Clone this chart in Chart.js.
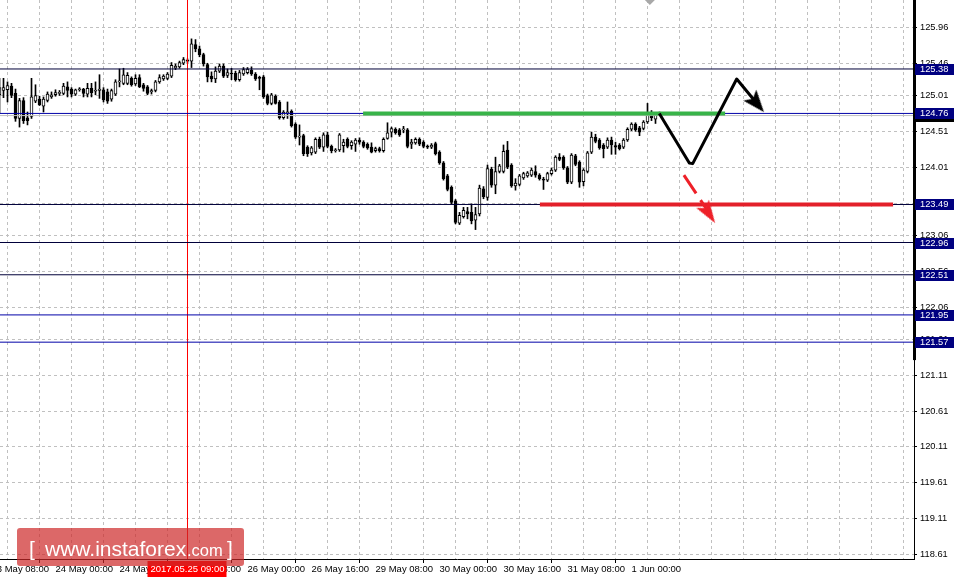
<!DOCTYPE html>
<html><head><meta charset="utf-8">
<script src="https://cdn.jsdelivr.net/npm/chart.js@4/dist/chart.umd.min.js"></script>
<style>html,body{margin:0;padding:0;background:#fff;}canvas{display:block;}</style>
</head><body>
<canvas id="c" width="955" height="580"></canvas>
<script>
// ---- data (hours counted from 24 May 00:00, trading hours only) ----
const firstBarHour = -14;
const opens  = [125.02,125.08,125.09,125.14,125.04,124.69,124.94,124.70,124.72,124.93,124.96,124.86,124.94,124.99,
125.02,125.04,125.04,125.13,125.10,125.03,125.09,125.10,125.03,125.11,125.07,125.08,125.09,125.06,124.96,125.03,
125.20,125.18,125.18,125.25,125.17,125.26,125.16,125.13,125.06,125.08,125.20,125.24,125.25,125.28,125.39,125.41,
125.46,125.50,125.49,125.72,125.66,125.58,125.44,125.28,125.24,125.35,125.42,125.29,125.32,125.32,125.23,125.31,
125.33,125.36,125.31,125.26,125.27,125.01,124.90,125.00,124.92,124.70,124.77,124.79,124.61,124.43,124.45,124.29,
124.21,124.22,124.40,124.29,124.46,124.30,124.24,124.25,124.31,124.40,124.31,124.33,124.39,124.36,124.33,124.29,
124.24,124.27,124.24,124.41,124.50,124.54,124.53,124.53,124.53,124.33,124.35,124.40,124.36,124.30,124.29,124.34,
124.22,124.07,123.89,123.73,123.54,123.23,123.32,123.39,123.38,123.27,123.36,123.71,123.59,123.98,123.76,123.95,
123.95,124.25,124.04,123.75,123.77,123.86,123.89,123.90,123.95,123.90,123.84,123.83,123.92,123.97,124.15,124.15,
124.00,123.80,124.17,124.08,123.81,123.95,124.22,124.43,124.39,124.32,124.29,124.39,124.31,124.32,124.29,124.39,
124.54,124.61,124.56,124.55,124.64,124.75,124.68,124.75];
const highs  = [125.25,125.25,125.20,125.18,125.10,124.97,124.98,124.78,125.25,125.16,125.00,124.99,125.06,125.06,
125.09,125.08,125.18,125.20,125.12,125.10,125.12,125.11,125.18,125.18,125.20,125.30,125.12,125.10,125.10,125.23,
125.38,125.39,125.33,125.27,125.30,125.30,125.18,125.15,125.10,125.22,125.30,125.30,125.33,125.47,125.45,125.49,
125.54,125.52,125.80,125.79,125.70,125.60,125.46,125.34,125.41,125.45,125.45,125.38,125.39,125.35,125.36,125.40,
125.40,125.41,125.33,125.28,125.29,125.03,125.04,125.02,124.94,124.80,124.92,124.81,124.63,124.60,124.47,124.31,
124.30,124.42,124.43,124.49,124.50,124.32,124.27,124.48,124.40,124.42,124.38,124.41,124.42,124.38,124.35,124.35,
124.29,124.29,124.42,124.63,124.57,124.56,124.55,124.58,124.55,124.40,124.42,124.42,124.38,124.32,124.34,124.36,
124.24,124.09,123.91,123.75,123.56,123.38,123.45,123.45,123.50,123.45,123.76,123.74,124.04,124.01,124.15,124.05,
124.32,124.37,124.06,123.85,123.91,123.94,123.95,124.00,124.03,123.92,123.87,123.94,124.00,124.17,124.20,124.17,
124.02,124.20,124.19,124.10,123.99,124.23,124.50,124.47,124.41,124.34,124.42,124.43,124.36,124.34,124.41,124.56,
124.63,124.63,124.58,124.66,124.90,124.80,124.77,124.78];
const lows   = [124.76,124.98,124.92,124.98,124.65,124.57,124.62,124.60,124.69,124.91,124.87,124.78,124.92,124.97,
125.00,125.01,125.02,124.99,124.99,125.01,125.07,124.99,124.99,124.99,125.02,124.97,124.92,124.90,124.93,125.01,
125.13,125.16,125.16,125.14,125.15,125.12,125.07,125.02,125.03,125.06,125.18,125.22,125.23,125.26,125.37,125.39,
125.44,125.47,125.40,125.62,125.55,125.42,125.20,125.20,125.19,125.33,125.26,125.26,125.23,125.21,125.21,125.29,
125.31,125.29,125.22,125.09,124.97,124.88,124.88,124.89,124.68,124.68,124.69,124.57,124.41,124.32,124.17,124.16,
124.18,124.20,124.27,124.23,124.28,124.21,124.22,124.23,124.22,124.28,124.26,124.23,124.33,124.28,124.26,124.21,
124.22,124.22,124.22,124.40,124.43,124.47,124.44,124.49,124.28,124.27,124.33,124.31,124.28,124.27,124.27,124.18,
124.05,123.83,123.68,123.50,123.22,123.21,123.30,123.29,123.22,123.14,123.33,123.57,123.55,123.73,123.64,123.93,
123.93,123.99,123.73,123.69,123.75,123.84,123.87,123.88,123.87,123.83,123.70,123.81,123.90,123.95,124.10,123.98,
123.78,123.78,124.03,123.73,123.75,123.93,124.20,124.35,124.26,124.14,124.27,124.19,124.19,124.25,124.27,124.37,
124.52,124.51,124.45,124.53,124.62,124.66,124.62,124.73];
const closes = [125.12,125.12,125.15,125.01,124.69,124.94,124.66,124.66,124.99,125.01,124.88,124.96,125.03,125.02,
125.05,125.04,125.14,125.08,125.03,125.09,125.10,125.04,125.11,125.05,125.08,125.10,124.95,124.93,125.08,125.20,
125.21,125.30,125.29,125.16,125.25,125.13,125.11,125.04,125.08,125.20,125.26,125.28,125.31,125.43,125.42,125.47,
125.51,125.49,125.73,125.66,125.58,125.45,125.27,125.24,125.35,125.42,125.28,125.33,125.31,125.23,125.33,125.37,
125.38,125.31,125.24,125.25,124.99,124.90,125.02,124.90,124.70,124.78,124.78,124.59,124.43,124.44,124.20,124.20,
124.28,124.40,124.29,124.46,124.30,124.24,124.25,124.46,124.36,124.30,124.36,124.39,124.36,124.30,124.28,124.22,
124.27,124.24,124.40,124.49,124.55,124.49,124.46,124.54,124.30,124.36,124.40,124.33,124.30,124.29,124.32,124.20,
124.07,123.85,123.70,123.52,123.24,123.34,123.41,123.36,123.26,123.35,123.72,123.60,123.99,123.76,123.95,124.03,
124.23,124.01,123.75,123.79,123.89,123.92,123.93,123.97,123.90,123.85,123.83,123.92,123.97,124.15,124.12,124.00,
123.80,124.18,124.05,123.80,123.97,124.21,124.43,124.37,124.28,124.27,124.39,124.32,124.29,124.27,124.39,124.54,
124.61,124.53,124.50,124.64,124.74,124.70,124.74,124.76];

const xTickHours  = [-16, 0, 16, 32, 48, 64, 80, 96, 112, 128, 144];
const xTickLabels = ['23 May 08:00','24 May 00:00','24 May 16:00','25 May 08:00','26 May 00:00','26 May 16:00',
                     '29 May 08:00','30 May 00:00','30 May 16:00','31 May 08:00','1 Jun 00:00'];
const yTickValues = [125.96,125.46,125.01,124.51,124.01,123.51,123.06,122.56,122.06,121.61,121.11,120.61,120.11,119.61,119.11,118.61];
const levelValues = [125.38,124.76,123.49,122.96,122.51,121.95,121.57];
const bidPrice = 124.73;
const greenHours = [76.9, 167.4];   const greenPrices = [124.76, 124.76];
const redHours   = [121.1, 209.4];  const redPrices   = [123.49, 123.49];
const mainPathHours  = [150.95, 158.45, 159.3, 170.3, 174.9];
const mainPathPrices = [124.76, 124.07, 124.06, 125.24, 124.93];
const mainTip = [177.1, 124.78];
const altPathHours  = [157.1, 162.6];
const altPathPrices = [123.90, 123.44];
const altTip = [164.9, 123.23];
const crosshairHour = 33;
const crosshairText = '2017.05.25 09:00';
</script>
<script>
const X_MIN = -13.875, X_MAX = 214.625, Y_MIN = 118.546, Y_MAX = 126.342;
const FONT = "'Liberation Sans', Arial, sans-serif";
const LEVEL_COLORS = ['#00003a', '#0000a8', '#00003a', '#00003a', '#00003a', '#0000a8', '#0000a8'];

const wickData = [], bodyData = [], bodyFill = [];
for (let k = 0; k < opens.length; k++) {
  const x = firstBarHour + k;
  wickData.push({x, y: [lows[k], highs[k]]});
  bodyData.push({x, y: [opens[k], closes[k]]});
  bodyFill.push(closes[k] >= opens[k] ? '#ffffff' : '#000000');
}
const pts = (xs, ys) => xs.map((x, i) => ({x, y: ys[i]}));

function arrowHead(color, w, len) {
  const c = document.createElement('canvas');
  c.width = w; c.height = len * 2;
  const g = c.getContext('2d');
  g.fillStyle = color;
  g.beginPath();
  g.moveTo(w / 2, len);
  g.lineTo(w, len * 2);
  g.lineTo(w / 2, len * 2 - len * 0.22);
  g.lineTo(0, len * 2);
  g.closePath();
  g.fill();
  return c;
}

const levelSets = levelValues.map((v, i) => ({
  type: 'line', data: [{x: X_MIN, y: v}, {x: X_MAX, y: v}],
  borderColor: LEVEL_COLORS[i], borderWidth: 1, pointRadius: 0, order: 1
}));

const datasets = [
  {type: 'line', data: [{x: X_MIN, y: bidPrice}, {x: X_MAX, y: bidPrice}], borderColor: '#c0c0c0', borderWidth: 1, pointRadius: 0, order: 1.2},
  ...levelSets,
  {type: 'line', data: [{x: crosshairHour, y: Y_MIN}, {x: crosshairHour, y: Y_MAX}], borderColor: '#ff0000', borderWidth: 1, pointRadius: 0, order: 1},
  {type: 'bar', data: wickData, backgroundColor: '#000', barThickness: 1, grouped: false, order: 3, minBarLength: 1},
  {type: 'bar', data: bodyData, backgroundColor: bodyFill, borderColor: '#000', borderWidth: 1, borderSkipped: false,
   barThickness: 3, grouped: false, order: 2, minBarLength: 1},
  {type: 'line', data: pts(greenHours, greenPrices), borderColor: '#38b449', borderWidth: 4, pointRadius: 0, order: 0.5},
  {type: 'line', data: pts(redHours, redPrices), borderColor: '#e3202a', borderWidth: 4, pointRadius: 0, order: 0.5},
  {type: 'line', data: pts(mainPathHours, mainPathPrices), borderColor: '#000', borderWidth: 3, pointRadius: 0, order: 0, borderJoinStyle: 'round'},
  {type: 'line', data: [{x: mainTip[0], y: mainTip[1]}], showLine: false, pointStyle: arrowHead('#000', 17, 22), pointRadius: 10, pointRotation: 140, order: 0},
  {type: 'line', data: pts(altPathHours, altPathPrices), borderColor: '#ee2028', borderWidth: 3, borderDash: [22, 8], pointRadius: 0, order: 0},
  {type: 'line', data: [{x: altTip[0], y: altTip[1]}], showLine: false, pointStyle: arrowHead('#ee2028', 15, 23), pointRadius: 10, pointRotation: 147, order: 0}
];

const deco = {
  id: 'deco',
  beforeDraw(chart) {
    const c = chart.ctx; c.save(); c.fillStyle = '#fff'; c.fillRect(0, 0, chart.width, chart.height); c.restore();
  },
  afterDraw(chart) {
    const c = chart.ctx, ys = chart.scales.y, xs = chart.scales.x, a = chart.chartArea;
    c.save();
    c.fillStyle = '#000';
    c.fillRect(a.right - 1, 0, 3, ys.getPixelForValue(121.32));
    const mx = xs.getPixelForValue(148.6);
    c.fillStyle = '#a8a8a8';
    c.beginPath(); c.moveTo(mx - 5, 0); c.lineTo(mx + 5, 0); c.lineTo(mx, 5); c.closePath(); c.fill();
    c.font = '9.3px ' + FONT; c.textBaseline = 'middle'; c.textAlign = 'left';
    const tag = (v, bg) => {
      const y = Math.round(ys.getPixelForValue(v));
      c.fillStyle = bg; c.fillRect(a.right + 1, y - 5, 39, 11);
      c.fillStyle = '#fff'; c.fillText(v.toFixed(2), a.right + 6, y + 0.5);
    };
    tag(bidPrice, '#000');
    levelValues.forEach(v => tag(v, '#000080'));
    const cx = xs.getPixelForValue(crosshairHour);
    c.fillStyle = '#ff0000'; c.fillRect(cx - 40, a.bottom + 2, 79, 16);
    c.fillStyle = '#fff'; c.textAlign = 'center'; c.font = '9.5px ' + FONT;
    c.fillText(crosshairText, cx, a.bottom + 10.5);
    // watermark
    c.fillStyle = 'rgba(205,40,40,0.70)';
    c.beginPath(); c.roundRect(17, 528, 227, 38, 3); c.fill();
    c.fillStyle = '#fff'; c.textAlign = 'left'; c.textBaseline = 'alphabetic';
    c.font = '21px ' + FONT;
    c.fillText('[', 29, 556);
    c.fillText('www.instaforex', 45, 556);
    c.font = '16.5px ' + FONT;
    c.fillText('.com', 187, 556);
    c.font = '21px ' + FONT;
    c.fillText(']', 227, 556);
    c.restore();
  }
};

new Chart(document.getElementById('c'), {
  type: 'bar',
  data: {datasets},
  options: {
    responsive: false, animation: false, events: [],
    layout: {padding: 0, autoPadding: false},
    plugins: {legend: {display: false}, tooltip: {enabled: false}},
    scales: {
      x: {
        type: 'linear', position: 'bottom', min: X_MIN, max: X_MAX, offset: false,
        afterBuildTicks: s => { const t = []; for (let h = -16; h <= 208; h += 8) t.push({value: h}); s.ticks = t; },
        afterFit: s => { s.height = 21; s.paddingLeft = 0; s.paddingRight = 0; },
        ticks: {
          autoSkip: false, maxRotation: 0, minRotation: 0, align: 'start', padding: 1, color: '#000',
          font: {family: FONT, size: 9.5},
          callback: v => { const i = xTickHours.indexOf(v); return i >= 0 ? xTickLabels[i] : ''; }
        },
        grid: {color: '#c0c0c0', tickLength: 4, tickColor: ctx => (ctx.tick && xTickHours.includes(ctx.tick.value)) ? '#000' : 'rgba(0,0,0,0)'},
        border: {display: true, color: '#000', width: 1, dash: [3, 3]}
      },
      y: {
        type: 'linear', position: 'right', min: Y_MIN, max: Y_MAX,
        afterBuildTicks: s => { s.ticks = yTickValues.map(v => ({value: v})); },
        afterFit: s => { s.width = 41; s.paddingTop = 0; s.paddingBottom = 0; },
        ticks: {padding: 3, color: '#000', font: {family: FONT, size: 9.3}, callback: v => v.toFixed(2)},
        grid: {color: '#c0c0c0', tickLength: 3, tickColor: '#000'},
        border: {display: true, color: '#000', width: 1, dash: [3, 3]}
      }
    }
  },
  plugins: [deco]
});
</script>
</body></html>
